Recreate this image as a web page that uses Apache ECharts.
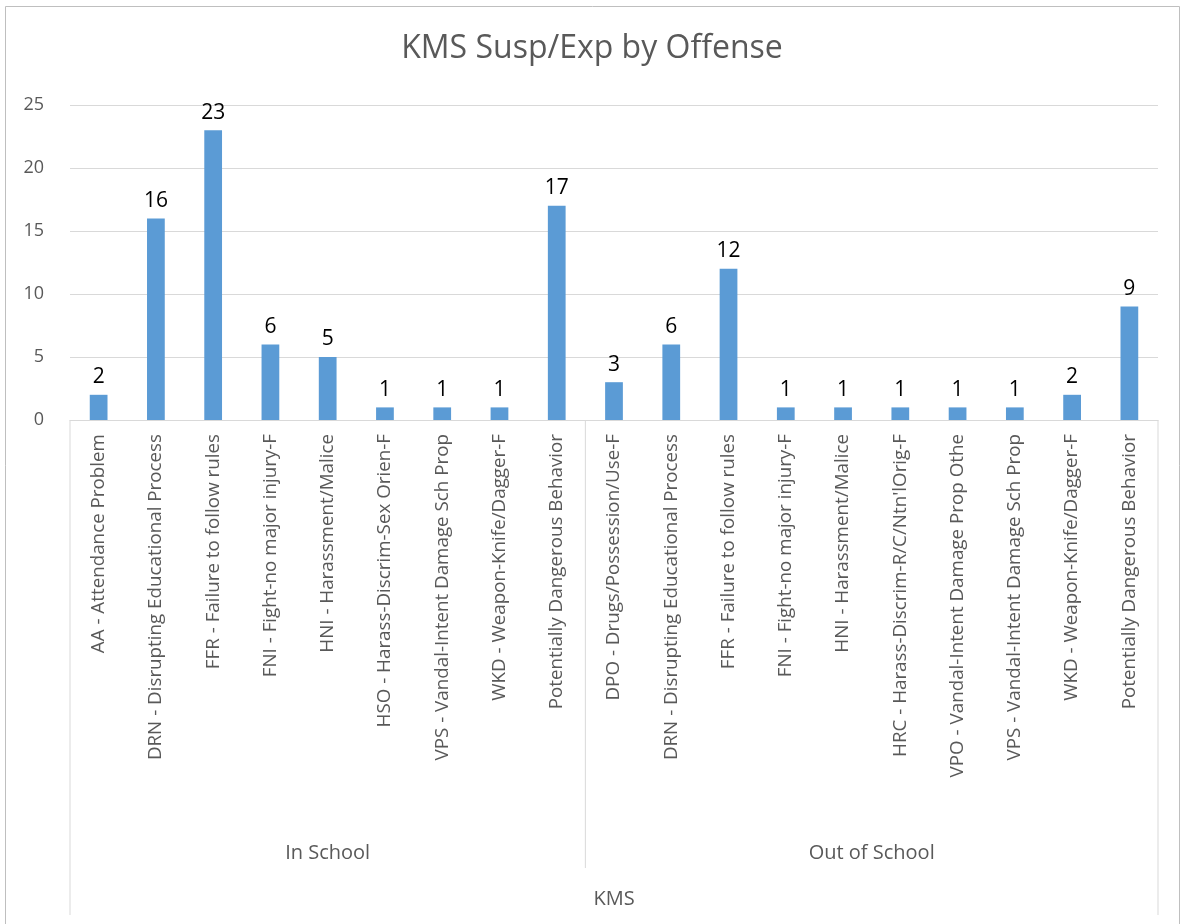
<!DOCTYPE html>
<html>
<head>
<meta charset="utf-8">
<script src="https://cdn.jsdelivr.net/npm/echarts@6/dist/echarts.min.js"></script>
<style>html,body{margin:0;padding:0;background:#fff}#c{width:1184px;height:924px}</style>
</head>
<body>
<div id="c"></div>
<script>
var categories = [
  "AA - Attendance Problem",
  "DRN - Disrupting Educational Process",
  "FFR - Failure to follow rules",
  "FNI - Fight-no major injury-F",
  "HNI - Harassment/Malice",
  "HSO - Harass-Discrim-Sex Orien-F",
  "VPS - Vandal-Intent Damage Sch Prop",
  "WKD - Weapon-Knife/Dagger-F",
  "Potentially Dangerous Behavior",
  "DPO - Drugs/Possession/Use-F",
  "DRN - Disrupting Educational Process",
  "FFR - Failure to follow rules",
  "FNI - Fight-no major injury-F",
  "HNI - Harassment/Malice",
  "HRC - Harass-Discrim-R/C/Ntn'lOrig-F",
  "VPO - Vandal-Intent Damage Prop Othe",
  "VPS - Vandal-Intent Damage Sch Prop",
  "WKD - Weapon-Knife/Dagger-F",
  "Potentially Dangerous Behavior"
];
var values = [2, 16, 23, 6, 5, 1, 1, 1, 17, 3, 6, 12, 1, 1, 1, 1, 1, 2, 9];
var groups = ["In School", "Out of School"];
var groupSizes = [9, 10];
var topLevel = "KMS";
var yTicks = [0, 5, 10, 15, 20, 25];

var chart = echarts.init(document.getElementById('c'));
var font = "'Open Sans', 'Liberation Sans', sans-serif";
chart.setOption({
  animation: false,
  title: {
    text: "KMS Susp/Exp by Offense",
    left: 'center', top: 28,
    textStyle: {fontFamily: font, fontWeight: 'normal', fontSize: 32, color: '#595959'}
  },
  grid: {left: 70, right: 26, top: 105, bottom: 504},
  xAxis: {
    type: 'category', data: categories,
    axisLine: {lineStyle: {color: '#d9d9d9', width: 1}},
    axisTick: {show: false},
    axisLabel: {rotate: 90, interval: 0, margin: 14, fontFamily: font, fontSize: 18.8, color: '#595959'}
  },
  yAxis: {
    type: 'value', min: yTicks[0], max: yTicks[yTicks.length - 1], interval: 5,
    axisLine: {show: false}, axisTick: {show: false},
    axisLabel: {margin: 26, fontFamily: font, fontSize: 18, color: '#595959'},
    splitLine: {lineStyle: {color: '#d9d9d9', width: 1}}
  },
  series: [{
    type: 'bar', data: values, barWidth: '31%',
    itemStyle: {color: '#5b9bd5'},
    label: {show: true, position: 'top', distance: 7, fontFamily: font, fontSize: 21, color: '#000'}
  }]
});

function drawGroups() {
  var g = [];
  var y0 = chart.convertToPixel({yAxisIndex: 0}, 0);
  var lineColor = '#d9d9d9';
  var bounds = [0];
  var acc = 0;
  groupSizes.forEach(function (s) { acc += s; bounds.push(acc); });
  var half = function (i) {
    var a = chart.convertToPixel({xAxisIndex: 0}, Math.min(i, categories.length - 1));
    var b = chart.convertToPixel({xAxisIndex: 0}, Math.max(i - 1, 0));
    if (i === 0) return a - (chart.convertToPixel({xAxisIndex: 0}, 1) - a) / 2;
    if (i >= categories.length) return b + (b - chart.convertToPixel({xAxisIndex: 0}, categories.length - 2)) / 2;
    return (a + b) / 2;
  };
  var xs = bounds.map(half);
  var groupBottom = 868, outerBottom = 915;
  xs.forEach(function (x, k) {
    var outer = (k === 0 || k === xs.length - 1);
    g.push({type: 'line', shape: {x1: x, y1: y0, x2: x, y2: outer ? outerBottom : groupBottom},
      style: {stroke: lineColor, lineWidth: 1}});
  });
  for (var k = 0; k < groups.length; k++) {
    g.push({type: 'text', x: (xs[k] + xs[k + 1]) / 2, y: 853,
      style: {text: groups[k], fontFamily: font, fontSize: 20, fill: '#595959', align: 'center', verticalAlign: 'middle'}});
  }
  g.push({type: 'text', x: (xs[0] + xs[xs.length - 1]) / 2, y: 899,
    style: {text: topLevel, fontFamily: font, fontSize: 20, fill: '#595959', align: 'center', verticalAlign: 'middle'}});
  g.push({type: 'rect', shape: {x: 5.5, y: 6.5, width: 1174, height: 930}, style: {fill: 'none', stroke: '#bfbfbf', lineWidth: 1}});
  chart.setOption({graphic: g});
}
drawGroups();
</script>
</body>
</html>
